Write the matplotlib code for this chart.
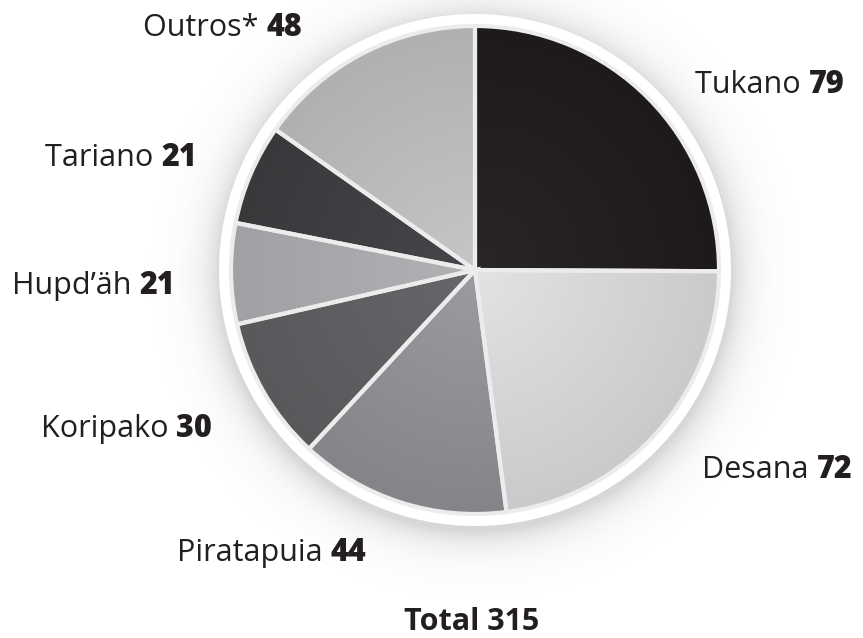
import numpy as np
import matplotlib.pyplot as plt
from matplotlib.patches import Circle
from matplotlib.colors import to_rgb

labels = ['Tukano', 'Desana', 'Piratapuia', 'Koripako', 'Hupd’äh', 'Tariano', 'Outros*']
values = [79, 72, 44, 30, 21, 21, 48]
total = 315

# shade near the centre and near the rim of each wedge
inner = ['#2a2627', '#e2e3e4', '#9a9c9f', '#66676a', '#b0b2b4', '#46474a', '#c4c6c8']
outer = ['#1e1a1b', '#c9cacc', '#848588', '#58595b', '#9fa1a4', '#38393b', '#aeb0b2']

# label baselines, in pixels from the top-left corner
label_pos = [(695, 93), (702, 478), (177, 561), (41, 437), (12, 294), (45, 166), (143, 36)]

W, H = 863, 638
fig = plt.figure(figsize=(W / 100, H / 100), dpi=100)
ax = fig.add_axes([0, 0, 1, 1])

cx, cy = 475, H - 270
R = 244
ring = 256

wedges, _ = ax.pie(values, radius=R, center=(cx, cy), startangle=90, counterclock=False,
                   wedgeprops=dict(facecolor='none', edgecolor='#ececec', linewidth=3, zorder=3))
ax.set_xlim(0, W)
ax.set_ylim(0, H)
ax.axis('off')

yy, xx = np.mgrid[0:H, 0:W] + 0.5
d = np.hypot(xx - cx, yy - cy)

# soft shadow around the white rim
dsh = np.hypot(xx - cx, yy - (cy - 5))
alpha = np.clip(0.22 * np.exp(-(dsh - ring) / 17), 0, 0.22)
shadow = np.zeros((H, W, 4))
shadow[..., :3] = 0.3
shadow[..., 3] = alpha
ax.imshow(shadow, extent=(0, W, 0, H), origin='lower', zorder=0, interpolation='bilinear')
ax.add_patch(Circle((cx, cy), ring, facecolor='white', edgecolor='none', zorder=1))

# radial shading inside each wedge
t = np.clip(d / R, 0, 1)[..., None]
for w, c0, c1 in zip(wedges, inner, outer):
    img = np.ones((H, W, 4))
    img[..., :3] = (1 - t) * np.array(to_rgb(c0)) + t * np.array(to_rgb(c1))
    im = ax.imshow(img, extent=(0, W, 0, H), origin='lower', zorder=2, interpolation='bilinear')
    im.set_clip_path(w)

fig.canvas.draw()
renderer = fig.canvas.get_renderer()
for name, v, (x, y) in zip(labels, values, label_pos):
    t1 = ax.text(x, H - y, name + ' ', fontsize=22, family='Open Sans', color='#231f20',
                 ha='left', va='baseline')
    bb = t1.get_window_extent(renderer)
    ax.text(bb.x1, H - y, str(v), fontsize=22, family='Open Sans', weight='heavy',
            color='#231f20', ha='left', va='baseline')

ax.text(472, H - 630, f'Total {total}', fontsize=22, family='Open Sans', weight='bold',
        color='#231f20', ha='center', va='baseline')

fig.savefig('out.png', dpi=100)
